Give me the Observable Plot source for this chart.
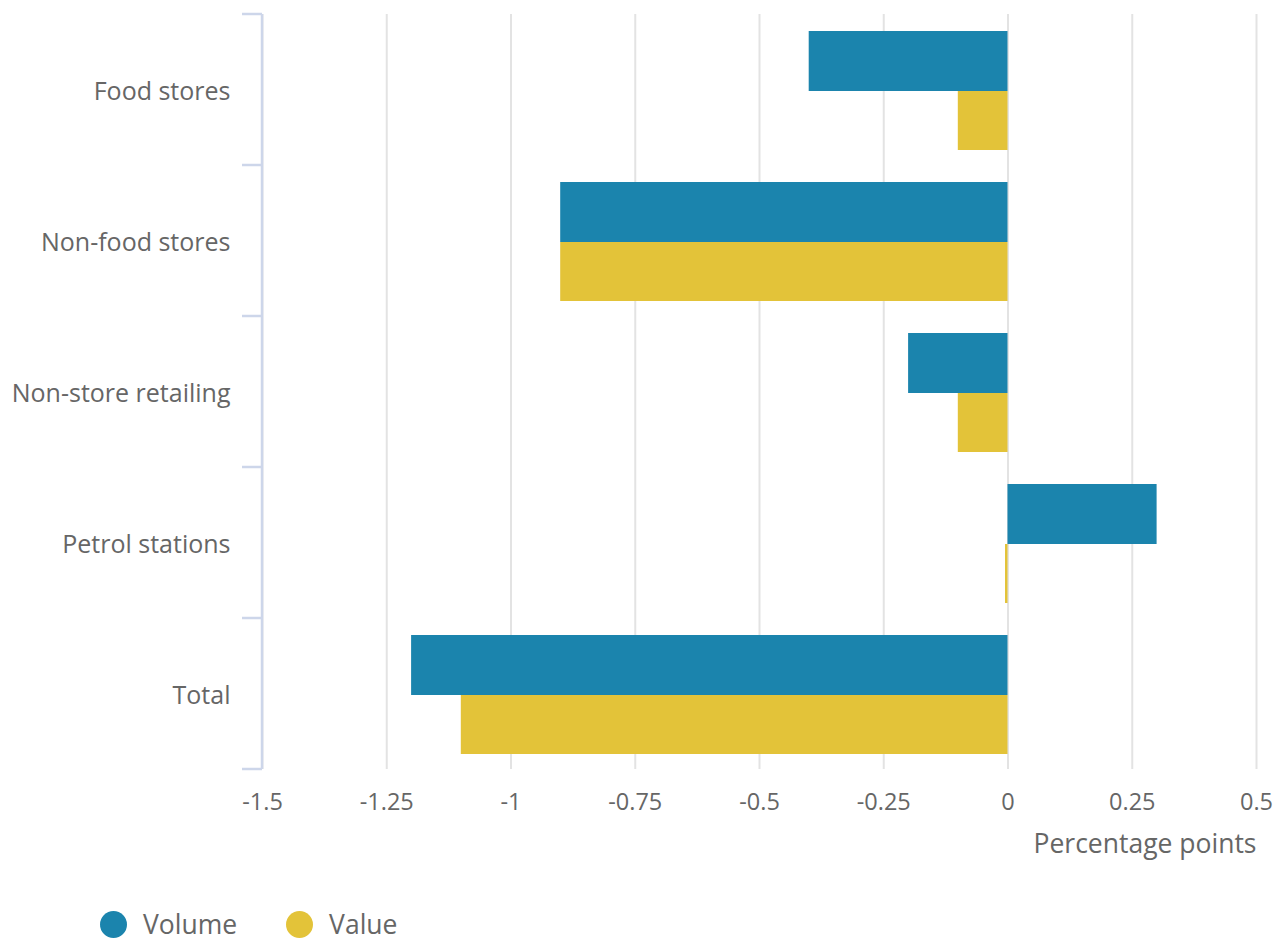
<!DOCTYPE html>
<html>
<head>
<meta charset="utf-8">
<script src="https://cdn.jsdelivr.net/npm/d3@7"></script>
<script src="https://cdn.jsdelivr.net/npm/@observablehq/plot@0.6"></script>
<style>
  html, body { margin: 0; padding: 0; background: #fff; overflow: hidden; }
  body { font-family: "Open Sans", sans-serif; width: 1282px; }
  #chart svg { display: block; }
  #legend { display: flex; align-items: center; height: 50px; margin-top: 20px; padding-left: 100px; font-size: 26.5px; color: #666; line-height: 1.2; }
  .item { display: flex; align-items: center; margin-right: 49px; }
  .dot { width: 27px; height: 27px; border-radius: 50%; margin-right: 16px; flex: none; }
</style>
</head>
<body>
<div id="chart"></div>
<div id="legend"></div>
<script>
const categories = ["Food stores", "Non-food stores", "Non-store retailing", "Petrol stations", "Total"];
const volume = [-0.4, -0.9, -0.2, 0.3, -1.2];
const value = [-0.1, -0.9, -0.1, -0.005, -1.1];
const series = ["Volume", "Value"];
const colors = ["#1b84ad", "#e3c339"];
const xTicks = [-1.5, -1.25, -1, -0.75, -0.5, -0.25, 0, 0.25, 0.5];
const xLabel = "Percentage points";

const volData = categories.map((c, i) => ({category: c, series: "Volume", v: volume[i]}));
const valData = categories.map((c, i) => ({category: c, series: "Value", v: value[i]}));

const W = 1282, H = 880;
const plot = Plot.plot({
  width: W,
  height: H,
  marginLeft: 262,
  marginRight: 26,
  marginTop: 14,
  marginBottom: 111,
  style: {fontFamily: "Open Sans", fontSize: "21px", color: "#666", background: "#fff"},
  x: {domain: [-1.5, 0.5]},
  y: {domain: categories, padding: 0},
  color: {domain: series, range: colors},
  marks: [
    Plot.gridX(xTicks, {stroke: "#e3e3e3", strokeOpacity: 1, strokeWidth: 2}),
    Plot.barX(volData, {x: "v", y: "category", fill: "series", insetTop: 17, insetBottom: 74}),
    Plot.barX(valData, {x: "v", y: "category", fill: "series", insetTop: 77, insetBottom: 15}),
    Plot.axisX(xTicks, {tickSize: 0, tickPadding: 24, tickFormat: d => String(d), fill: "#666", fontSize: 23.5, label: null}),
    Plot.text([xLabel], {text: d => d, frameAnchor: "bottom-right", textAnchor: "end", dy: 83, fill: "#666", fontSize: 26.5}),
    Plot.axisY({tickSize: 0, tickPadding: 32, dy: 2, label: null, fill: "#666", fontSize: 25})
  ]
});
document.getElementById("chart").appendChild(plot);

// y-axis frame: vertical line and band-boundary ticks
const ys = plot.scale("y");
const xs = plot.scale("x");
const x0 = xs.apply(-1.5);
const bounds = categories.map(c => ys.apply(c)).concat([ys.apply(categories[categories.length - 1]) + ys.bandwidth]);
const svg = d3.select(plot);
const g = svg.append("g").attr("stroke", "#cdd6ea").attr("stroke-width", 2.5).attr("fill", "none");
g.append("line").attr("x1", x0).attr("x2", x0).attr("y1", bounds[0]).attr("y2", bounds[bounds.length - 1]);
g.selectAll("line.t").data(bounds).join("line").attr("class", "t")
  .attr("x1", x0 - 20).attr("x2", x0).attr("y1", d => d).attr("y2", d => d);

// legend
const legend = d3.select("#legend");
series.forEach((s, i) => {
  const it = legend.append("div").attr("class", "item");
  it.append("div").attr("class", "dot").style("background", colors[i]);
  it.append("span").text(s);
});
</script>
</body>
</html>
